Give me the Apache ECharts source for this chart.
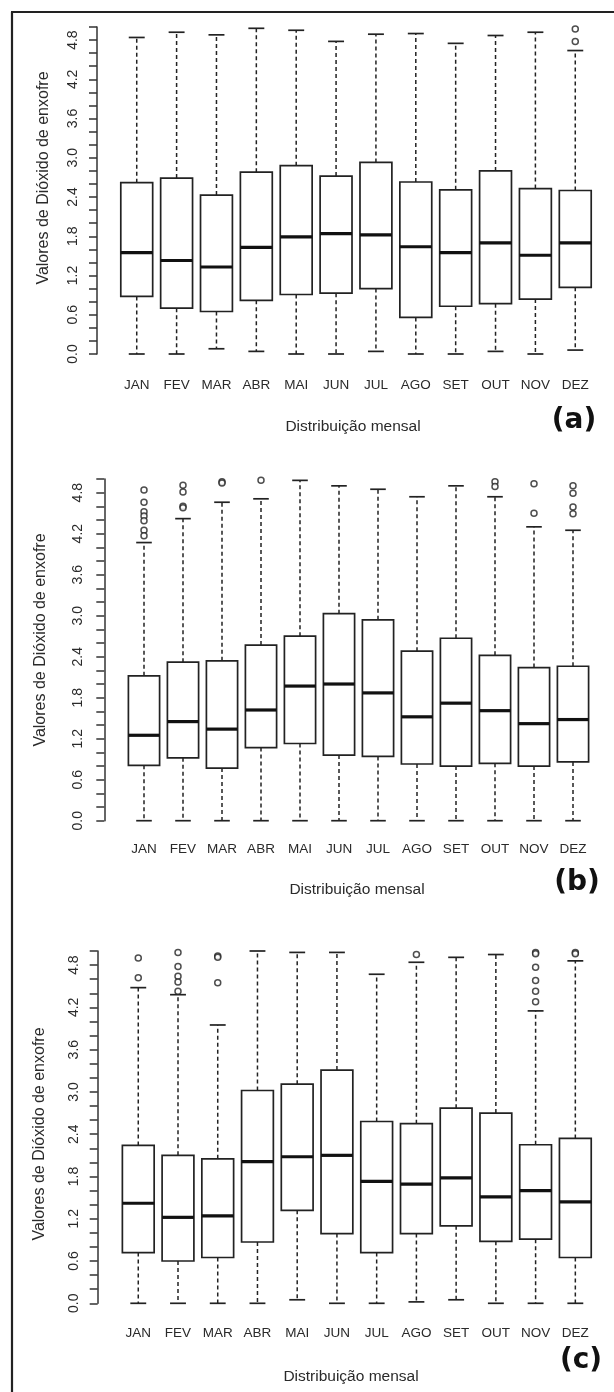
<!DOCTYPE html>
<html>
<head>
<meta charset="utf-8">
<script src="https://cdn.jsdelivr.net/npm/echarts@6/dist/echarts.min.js"></script>
<style>
  html, body { margin: 0; padding: 0; background: #fff; }
  #chart { width: 614px; height: 1392px; }
</style>
</head>
<body>
<div id="chart"></div>
<script>
// Monthly sulphur dioxide distributions, three periods (a), (b), (c)
const months = ['JAN', 'FEV', 'MAR', 'ABR', 'MAI', 'JUN', 'JUL', 'AGO', 'SET', 'OUT', 'NOV', 'DEZ'];
const yTickLabels = ['0.0', '0.6', '1.2', '1.8', '2.4', '3.0', '3.6', '4.2', '4.8'];

// (a)
const aLow  = [0.00, 0.00, 0.08, 0.04, 0.00, 0.00, 0.04, 0.00, 0.00, 0.04, 0.00, 0.06];
const aQ1   = [0.88, 0.70, 0.65, 0.82, 0.91, 0.93, 1.00, 0.56, 0.73, 0.77, 0.84, 1.02];
const aMed  = [1.55, 1.43, 1.33, 1.63, 1.79, 1.84, 1.82, 1.64, 1.55, 1.70, 1.51, 1.70];
const aQ3   = [2.62, 2.69, 2.43, 2.78, 2.88, 2.72, 2.93, 2.63, 2.51, 2.80, 2.53, 2.50];
const aHigh = [4.84, 4.92, 4.88, 4.98, 4.95, 4.78, 4.89, 4.90, 4.75, 4.87, 4.92, 4.64];
const aOut  = [[], [], [], [], [], [], [], [], [], [], [], [4.97, 4.78]];

// (b)
const bLow  = [0.00, 0.00, 0.00, 0.00, 0.00, 0.00, 0.00, 0.00, 0.00, 0.00, 0.00, 0.00];
const bQ1   = [0.81, 0.92, 0.77, 1.07, 1.13, 0.96, 0.94, 0.83, 0.80, 0.84, 0.80, 0.86];
const bMed  = [1.25, 1.45, 1.34, 1.62, 1.97, 2.00, 1.87, 1.52, 1.72, 1.61, 1.42, 1.48];
const bQ3   = [2.12, 2.32, 2.34, 2.57, 2.70, 3.03, 2.94, 2.48, 2.67, 2.42, 2.24, 2.26];
const bHigh = [4.07, 4.42, 4.66, 4.71, 4.98, 4.90, 4.85, 4.74, 4.90, 4.74, 4.30, 4.25];
const bOut  = [[4.84, 4.66, 4.52, 4.46, 4.39, 4.25, 4.17], [4.91, 4.81, 4.60, 4.58], [4.96, 4.94], [4.98],
               [], [], [], [], [], [4.96, 4.89], [4.93, 4.50], [4.90, 4.79, 4.59, 4.49]];

// (c)
const cLow  = [0.00, 0.00, 0.00, 0.00, 0.05, 0.00, 0.00, 0.02, 0.05, 0.00, 0.00, 0.00];
const cQ1   = [0.72, 0.60, 0.65, 0.87, 1.32, 0.99, 0.72, 0.99, 1.10, 0.88, 0.91, 0.65];
const cMed  = [1.42, 1.22, 1.24, 2.01, 2.08, 2.10, 1.73, 1.69, 1.78, 1.51, 1.60, 1.44];
const cQ3   = [2.24, 2.10, 2.05, 3.02, 3.11, 3.31, 2.58, 2.55, 2.77, 2.70, 2.25, 2.34];
const cHigh = [4.48, 4.38, 3.95, 5.00, 4.98, 4.98, 4.67, 4.84, 4.91, 4.95, 4.15, 4.86];
const cOut  = [[4.90, 4.62], [4.98, 4.78, 4.64, 4.56, 4.43], [4.93, 4.91, 4.55], [], [], [], [],
               [4.95], [], [], [4.98, 4.96, 4.77, 4.58, 4.43, 4.28], [4.98, 4.96]];

const panels = [
  { low: aLow, q1: aQ1, med: aMed, q3: aQ3, high: aHigh, out: aOut, tag: '(a)',
    grid: { left: 116.8, top: 27, width: 478.4, height: 327 }, yOffset: 19.8, yMargin: 17, xMargin: 24,
    yTitle: [44, 178], xTitle: [353, 427], tagPos: [574, 421] },
  { low: bLow, q1: bQ1, med: bMed, q3: bQ3, high: bHigh, out: bOut, tag: '(b)',
    grid: { left: 124.5, top: 479, width: 468, height: 341.7 }, yOffset: 20.2, yMargin: 19, xMargin: 22,
    yTitle: [41, 640], xTitle: [357, 890], tagPos: [577, 883] },
  { low: cLow, q1: cQ1, med: cMed, q3: cQ3, high: cHigh, out: cOut, tag: '(c)',
    grid: { left: 118.4, top: 951, width: 476.8, height: 352.3 }, yOffset: 20.7, yMargin: 17, xMargin: 22.5,
    yTitle: [40, 1134], xTitle: [351, 1377], tagPos: [581, 1361] }
];

const INK = '#222';
const FONT = '"Liberation Sans", Arial, Helvetica, sans-serif';

// Box, dashed whiskers, staples and a heavy median line for one month
function renderBox(params, api) {
  const i = api.value(0);
  const pLow = api.coord([i, api.value(1)]);
  const pQ1 = api.coord([i, api.value(2)]);
  const pMed = api.coord([i, api.value(3)]);
  const pQ3 = api.coord([i, api.value(4)]);
  const pHigh = api.coord([i, api.value(5)]);
  const band = api.size([1, 0])[0];
  const cx = pMed[0];
  const hb = band * 0.4;
  const hc = band * 0.2;
  const whisker = { stroke: INK, lineWidth: 1.5, lineDash: [4, 3] };
  const solid = { stroke: INK, lineWidth: 1.7 };
  return {
    type: 'group',
    children: [
      { type: 'line', shape: { x1: cx, y1: pQ3[1], x2: cx, y2: pHigh[1] }, style: whisker },
      { type: 'line', shape: { x1: cx, y1: pQ1[1], x2: cx, y2: pLow[1] }, style: whisker },
      { type: 'line', shape: { x1: cx - hc, y1: pHigh[1], x2: cx + hc, y2: pHigh[1] }, style: solid },
      { type: 'line', shape: { x1: cx - hc, y1: pLow[1], x2: cx + hc, y2: pLow[1] }, style: solid },
      { type: 'rect', shape: { x: cx - hb, y: pQ3[1], width: 2 * hb, height: pQ1[1] - pQ3[1] },
        style: { fill: '#fff', stroke: INK, lineWidth: 1.7 } },
      { type: 'line', shape: { x1: cx - hb, y1: pMed[1], x2: cx + hb, y2: pMed[1] },
        style: { stroke: '#111', lineWidth: 3.2 } }
    ]
  };
}

const grids = [], xAxes = [], yAxes = [], series = [], graphics = [];

panels.forEach((p, k) => {
  grids.push(Object.assign({ containLabel: false }, p.grid));
  xAxes.push({
    type: 'category', gridIndex: k, data: months,
    axisLine: { show: false }, axisTick: { show: false }, splitLine: { show: false },
    axisLabel: { interval: 0, margin: p.xMargin, fontSize: 13.5, color: '#2a2a2a', fontFamily: FONT }
  });
  yAxes.push({
    type: 'value', gridIndex: k, min: 0, max: 5, interval: 0.2, offset: p.yOffset,
    splitLine: { show: false },
    axisLine: { show: true, lineStyle: { color: '#333', width: 1.5 } },
    axisTick: { show: true, length: 8, lineStyle: { color: '#333', width: 1.5 } },
    axisLabel: {
      rotate: 90, margin: p.yMargin, fontSize: 14, color: '#2a2a2a', fontFamily: FONT,
      formatter: v => { const t = Math.round(v * 10); return t % 6 === 0 ? yTickLabels[t / 6] : ''; }
    }
  });
  series.push({
    type: 'custom', xAxisIndex: k, yAxisIndex: k, renderItem: renderBox,
    encode: { x: 0, y: [1, 2, 3, 4, 5] },
    data: months.map((m, i) => [i, p.low[i], p.q1[i], p.med[i], p.q3[i], p.high[i]]),
    silent: true
  });
  const pts = [];
  p.out.forEach((vals, i) => vals.forEach(v => pts.push([i, v])));
  series.push({
    type: 'scatter', xAxisIndex: k, yAxisIndex: k, data: pts, clip: false, silent: true,
    symbol: 'circle', symbolSize: 6,
    itemStyle: { color: '#fff', borderColor: INK, borderWidth: 1.5 }
  });
  graphics.push({
    type: 'text', x: p.yTitle[0], y: p.yTitle[1], rotation: Math.PI / 2,
    style: { text: 'Valores de Dióxido de enxofre', fontSize: 16, fontFamily: FONT, fill: '#2a2a2a',
             textAlign: 'center', textVerticalAlign: 'middle' }
  });
  graphics.push({
    type: 'text', x: p.xTitle[0], y: p.xTitle[1],
    style: { text: 'Distribuição mensal', fontSize: 15.5, fontFamily: FONT, fill: '#2a2a2a',
             textAlign: 'center', textVerticalAlign: 'middle' }
  });
  graphics.push({
    type: 'text', x: p.tagPos[0], y: p.tagPos[1],
    style: { text: p.tag, fontSize: 28, fontWeight: 'bold', fontFamily: '"DejaVu Sans", sans-serif',
             fill: '#111', textAlign: 'center', textVerticalAlign: 'middle' }
  });
});

// Figure frame: left and top rules
graphics.push({ type: 'line', shape: { x1: 12, y1: 12, x2: 12, y2: 1392 }, style: { stroke: '#222', lineWidth: 2.2 } });
graphics.push({ type: 'line', shape: { x1: 11, y1: 12, x2: 614, y2: 12 }, style: { stroke: '#222', lineWidth: 2.2 } });

const chart = echarts.init(document.getElementById('chart'), null, { renderer: 'canvas' });
chart.setOption({
  backgroundColor: '#fff',
  animation: false,
  grid: grids,
  xAxis: xAxes,
  yAxis: yAxes,
  series: series,
  graphic: graphics
});
</script>
</body>
</html>
